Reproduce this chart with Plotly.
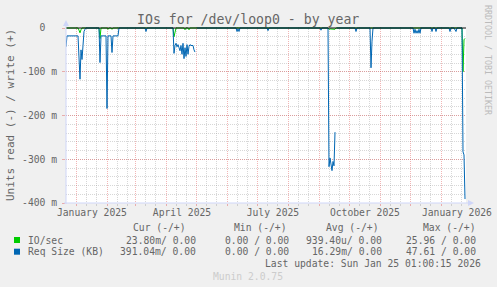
import plotly.graph_objects as go
import pandas as pd
import numpy as np

W, H = 497, 287
PL, PR, PT, PB = 66, 466, 27, 203   # plot area in pixels

FONT = "DejaVu Sans Mono"
TXT = "#666666"

start = pd.Timestamp("2024-12-21 01:00:15")
span_days = 400

# Req Size (KB) read side, milli-units, by day offset from start (NaN = unknown)
req_days = [0, 1, 12, 13, 14, 15, 16, 17, 18, 19, 20,
            33, 34, 35, 40, 41, 42, 45, 46, 47, 52, 53,
            79, 80, 81,
            107, 108, 109, 110, 111, 112, 113, 114, 115, 116, 117, 118, 119, 120, 121, 122, 123,
            124, 125, 126, 127, 128, 129, 130, 131,
            170, 171, 172, 173, 174,
            201, 202, 203,
            254, 255, 256,
            262, 263, 264, 265, 266, 267, 268, 269, 270, 271,
            289, 290, 291,
            304, 305, 306, 307,
            347, 348, 349, 350, 351, 352, 353, 354, 355,
            365, 366, 367, 369, 370, 371,
            383, 384, 385, 388, 389, 390, 391,
            396, 397, 398, 399]
req_vals = [43, 18, 18, 60, 117, 50, 72, 40, 8, 3, 0,
            0, 79, 18, 18, 184, 18, 18, 56, 18, 18, 0,
            0, 8, 0,
            0, 58, 40, 35, 43, 38, 45, 52, 40, 60, 35, 70, 45, 65, 38, 60, 42,
            38, 40, 40, 40, 50, 55, np.nan, 0,
            0, 8, 2, 8, 0,
            0, 6, 0,
            0, 5, 0,
            0, 317, 297, 320, 326, 305, 315, 238, np.nan, 0,
            0, 8, 0,
            0, 91, 30, 0,
            0, 12, 3, 12, 6, 12, 3, 12, 0,
            0, 8, 0, 0, 8, 0,
            0, 8, 0, 0, 6, 8, 0,
            0, 283, 290, 391]

# IO/sec read side, milli-units
io_days = [0, 12, 13, 14, 15, 16,
           33, 34, 35, 41, 42, 43, 45, 46, 47,
           107, 108, 109, 110, 118, 119, 120, 122, 123, 124,
           262, 263, 264, 269, 270,
           396, 397, 398, 399]
io_vals = [0, 0, 5, 11, 4, 0,
           0, 24, 0, 0, 3, 0, 0, 3, 0,
           0, 20, 6, 0, 0, 4, 0, 0, 4, 0,
           0, 3, 2, 3, 0,
           0, 100, 27, 23.8]

y_ticks = [0, -0.1, -0.2, -0.3, -0.4]
y_ticktext = ["0\u00a0\u00a0", "-100 m", "-200 m", "-300 m", "-400 m"]

month_starts = pd.date_range("2025-01-01", "2026-01-01", freq="MS")
minor_days = [d for m in pd.date_range("2024-12-01", "2026-01-01", freq="MS")
              for d in (m + pd.Timedelta(days=10), m + pd.Timedelta(days=20))]
label_dates = ["2025-01-16", "2025-04-16", "2025-07-16", "2025-10-16", "2026-01-16"]
label_text = ["January 2025", "April 2025", "July 2025", "October 2025", "January 2026"]

legend_names = ["IO/sec", "Req Size (KB)"]
legend_colors = ["#00CC00", "#0066B3"]
col_headers = ["Cur (-/+)", "Min (-/+)", "Avg (-/+)", "Max (-/+)"]
legend_cur = ["23.80m/ 0.00", "391.04m/ 0.00"]
legend_min = ["0.00 / 0.00", "0.00 / 0.00"]
legend_avg = ["939.40u/ 0.00", "16.29m/ 0.00"]
legend_max = ["25.96 / 0.00", "47.61 / 0.00"]


def px(x):
    return (x - PL) / (PR - PL)


def py(y):
    return (PB - y) / (PB - PT)


def to_dates(days):
    return [start + pd.Timedelta(days=d) for d in days]


x_end = start + pd.Timedelta(days=span_days)

fig = go.Figure()
fig.add_trace(go.Scatter(x=to_dates(io_days), y=[-v / 1000 for v in io_vals],
                         mode="lines", line=dict(color=legend_colors[0], width=1),
                         connectgaps=False, showlegend=False, hoverinfo="skip"))
fig.add_trace(go.Scatter(x=to_dates(req_days), y=[-v / 1000 for v in req_vals],
                         mode="lines", line=dict(color=legend_colors[1], width=1),
                         connectgaps=False, showlegend=False, hoverinfo="skip"))
# dummy trace to carry the label axis
fig.add_trace(go.Scatter(x=[start, x_end], y=[None, None], xaxis="x2",
                         mode="lines", showlegend=False, hoverinfo="skip"))

minor_grid = "rgba(150,150,150,0.38)"
major_grid = "rgba(222,79,79,0.42)"

fig.update_layout(
    width=W, height=H, autosize=False,
    margin=dict(l=PL, r=W - PR, t=PT, b=H - PB, pad=0, autoexpand=False),
    paper_bgcolor="#F0F0F0", plot_bgcolor="#FFFFFF",
    font=dict(family=FONT, size=9.7, color=TXT),
    xaxis=dict(type="date", range=[start, x_end], showticklabels=False, automargin=False,
               tickmode="array", tickvals=month_starts,
               showgrid=True, gridcolor=major_grid, griddash="1px,1px", gridwidth=1,
               ticks="outside", ticklen=2, tickcolor=major_grid,
               minor=dict(tickmode="array", tickvals=minor_days, showgrid=True,
                          gridcolor=minor_grid, griddash="1px,1px", gridwidth=1,
                          ticks="outside", ticklen=2, tickcolor=minor_grid),
               zeroline=False, showline=False, fixedrange=True),
    xaxis2=dict(type="date", overlaying="x", matches="x", side="bottom", automargin=False,
                range=[start, x_end], tickmode="array", tickvals=label_dates,
                ticktext=label_text, showgrid=False, ticks="", zeroline=False,
                showline=False, ticklabelstandoff=2,
                tickfont=dict(family=FONT, size=9.7, color=TXT)),
    yaxis=dict(range=[-0.4, 0.4 / 175], tickmode="array", tickvals=y_ticks, automargin=False,
               ticktext=y_ticktext, showgrid=True, gridcolor=major_grid,
               griddash="1px,1px", gridwidth=1, zeroline=False, showline=False,
               ticks="outside", ticklen=3, tickcolor=major_grid, ticklabelstandoff=3,
               tickfont=dict(family=FONT, size=9.7, color=TXT),
               minor=dict(dtick=0.02, tick0=0, showgrid=True, gridcolor=minor_grid,
                          griddash="1px,1px", gridwidth=1),
               fixedrange=True),
)

axis_col = "#CFD6F8"
shapes = [
    # zero line
    dict(type="line", xref="paper", yref="y", x0=0, x1=1, y0=0, y1=0,
         line=dict(color="#000000", width=1), layer="above"),
    # axes
    dict(type="line", xref="paper", yref="paper", x0=px(PL), x1=px(PL), y0=py(PB + 1), y1=py(24),
         line=dict(color=axis_col, width=1)),
    dict(type="line", xref="paper", yref="paper", x0=px(PL - 2), x1=px(469), y0=py(PB), y1=py(PB),
         line=dict(color=axis_col, width=1)),
    # arrows
    dict(type="path", xref="paper", yref="paper",
         path=f"M {px(63)} {py(26)} L {px(69)} {py(26)} L {px(66)} {py(20)} Z",
         fillcolor=axis_col, line=dict(width=0)),
    dict(type="path", xref="paper", yref="paper",
         path=f"M {px(468)} {py(200)} L {px(468)} {py(206)} L {px(474)} {py(203)} Z",
         fillcolor=axis_col, line=dict(width=0)),
]
# legend squares
for i, c in enumerate(legend_colors):
    yc = 240 + i * 11.7
    shapes.append(dict(type="rect", xref="paper", yref="paper",
                       x0=px(14), x1=px(20), y0=py(yc + 3), y1=py(yc - 3),
                       fillcolor=c, line=dict(width=0)))
fig.update_layout(shapes=shapes)

ann = []


def add_text(x, y, text, xanchor="left", size=9.7, color=TXT, angle=0):
    ann.append(dict(x=px(x), y=py(y), xref="paper", yref="paper", text=text,
                    showarrow=False, xanchor=xanchor, yanchor="middle",
                    borderpad=0, textangle=angle,
                    font=dict(family=FONT, size=size, color=color)))


add_text(248, 19, "IOs for /dev/loop0 - by year", xanchor="center", size=13.2)
add_text(10.5, 115.5, "Units read (-) / write (+)", xanchor="center", size=11, angle=-90)
add_text(488, 60, "RRDTOOL / TOBI OETIKER", xanchor="center", size=8.3, color="#BBBBBB", angle=90)

header_right = [187, 288.3, 380, 476.7]
for h, xr in zip(col_headers, header_right):
    add_text(xr, 227.3, h, xanchor="right")

value_right = [196.7, 290, 383.3, 476.7]
for i, name in enumerate(legend_names):
    yc = 240 + i * 11.7
    add_text(26.7, yc, name)
    for col, xr in zip([legend_cur, legend_min, legend_avg, legend_max], value_right):
        add_text(xr, yc, col[i], xanchor="right")

add_text(482.3, 263.3, "Last update: Sun Jan 25 01:00:15 2026", xanchor="right")
add_text(248, 276.3, "Munin 2.0.75", xanchor="center", color="#CCCCCC")
fig.update_layout(annotations=ann)

fig.write_html("out.html", config={"displayModeBar": False})
